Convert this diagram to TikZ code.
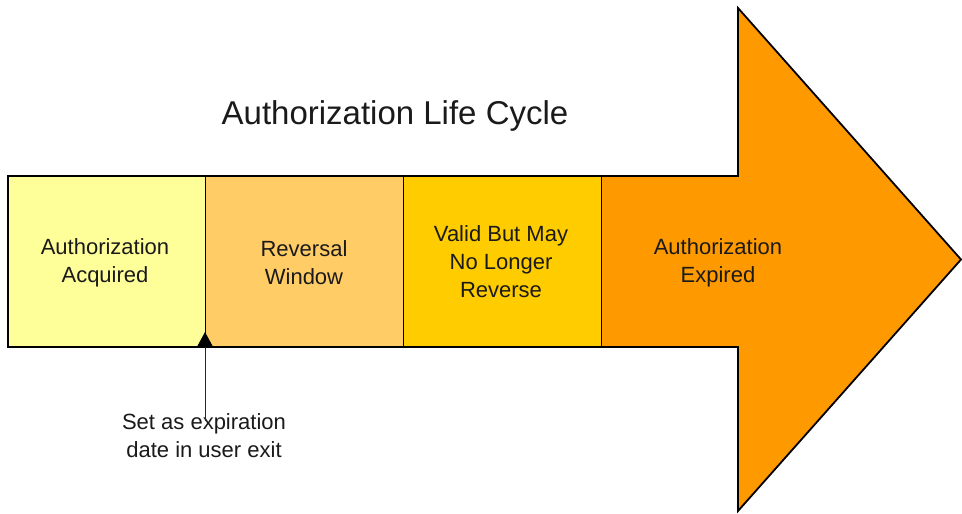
\documentclass[tikz,border=0pt]{standalone}
\usepackage{fontspec}
\setmainfont{Liberation Sans}
\usetikzlibrary{arrows.meta}
\definecolor{cAcq}{HTML}{FFFF99}
\definecolor{cRev}{HTML}{FFCC66}
\definecolor{cVal}{HTML}{FFCC00}
\definecolor{cExp}{HTML}{FF9900}
\definecolor{txt}{HTML}{1A1A1A}
\tikzset{
  lbl/.style={align=center, text=txt, inner sep=0pt, font=\fontsize{22}{28}\selectfont},
  divider/.style={draw=black, line width=0.9pt},
  outline/.style={draw=black, line width=1.8pt, line join=miter}
}
\begin{document}
\begin{tikzpicture}[x=1pt,y=-1pt]
\useasboundingbox (0,0) rectangle (962,514);
% arrow body + head
\fill[cExp] (8,176) -- (738,176) -- (738,8) -- (961,259.5) -- (738,511) -- (738,347) -- (8,347) -- cycle;
\fill[cAcq] (8,176) rectangle (205,347);
\fill[cRev] (205,176) rectangle (403,347);
\fill[cVal] (403,176) rectangle (601,347);
\draw[divider] (205,176) -- (205,347);
\draw[divider] (403,176) -- (403,347);
\draw[divider] (601,176) -- (601,347);
\draw[outline] (8,176) -- (738,176) -- (738,8) -- (961,259.5) -- (738,511) -- (738,347) -- (8,347) -- cycle;
% title
\node[text=txt, inner sep=0pt, anchor=base, font=\fontsize{33}{38}\selectfont] (title) at (395,124) {Authorization Life Cycle};
% labels
\node[lbl] (acq) at (105,263) {Authorization\\Acquired};
\node[lbl] (rev) at (304,263) {Reversal\\Window};
\node[lbl] (val) at (501,262) {Valid But May\\No Longer\\Reverse};
\node[lbl] (exp) at (718,263) {Authorization\\Expired};
% note
\coordinate (mark) at (205,332);
\node[lbl, anchor=north] (note) at (204,413) {Set as expiration\\date in user exit};
\draw[line width=0.9pt, draw=black!85, -{Triangle[length=15pt,width=16pt,color=black]}] (205,421) -- (mark);
\end{tikzpicture}
\end{document}
